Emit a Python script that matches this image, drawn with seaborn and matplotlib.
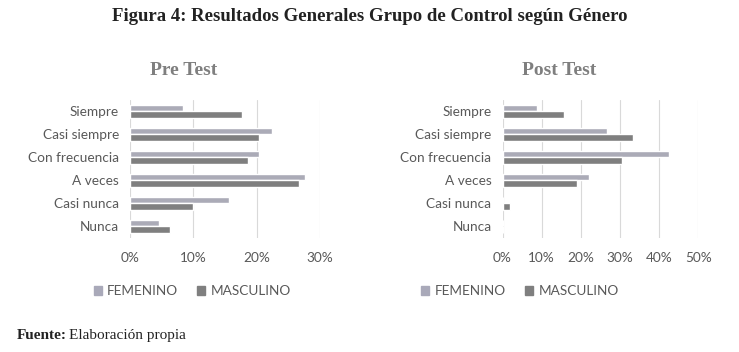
import pandas as pd
import seaborn as sns
import matplotlib.pyplot as plt
from matplotlib.ticker import PercentFormatter

categorias = ['Siempre', 'Casi siempre', 'Con frecuencia', 'A veces', 'Casi nunca', 'Nunca']
generos = ['FEMENINO', 'MASCULINO']

pre_femenino = [0.084, 0.224, 0.204, 0.277, 0.157, 0.045]
pre_masculino = [0.177, 0.203, 0.187, 0.267, 0.100, 0.063]
post_femenino = [0.087, 0.268, 0.426, 0.221, 0.0, 0.0]
post_masculino = [0.157, 0.332, 0.306, 0.189, 0.020, 0.0]

colores = {'FEMENINO': '#a9a9b9', 'MASCULINO': '#7f7f7f'}
gris = '#595959'

def tabla(fem, masc):
    return pd.DataFrame({
        'categoria': categorias * 2,
        'genero': ['FEMENINO'] * 6 + ['MASCULINO'] * 6,
        'valor': fem + masc,
    })

sns.set_style('white')
plt.rcParams['font.family'] = ['Lato', 'DejaVu Sans']

fig = plt.figure(figsize=(7.39, 3.52), dpi=100)
ax1 = fig.add_axes([0.176, 0.324, 0.257, 0.392])
ax2 = fig.add_axes([0.680, 0.324, 0.265, 0.392])

paneles = [
    (ax1, tabla(pre_femenino, pre_masculino), 'Pre Test', 0.30, [0, 0.1, 0.2, 0.3], 0.110, 0.248),
    (ax2, tabla(post_femenino, post_masculino), 'Post Test', 0.50, [0, 0.1, 0.2, 0.3, 0.4, 0.5], 0.553, 0.756),
]

for ax, df, titulo, xmax, ticks, leg_x, tit_x in paneles:
    sns.barplot(data=df, y='categoria', x='valor', hue='genero', order=categorias,
                hue_order=generos, palette=colores, orient='h', width=0.55,
                ax=ax, legend=False)
    ax.set_xlim(0, xmax)
    ax.set_xticks(ticks)
    ax.xaxis.set_major_formatter(PercentFormatter(1.0, decimals=0))
    ax.grid(axis='x', color='#d9d9d9', linewidth=0.8)
    ax.set_axisbelow(True)
    sns.despine(ax=ax, left=True, bottom=True)
    ax.set_xlabel('')
    ax.set_ylabel('')
    ax.tick_params(axis='both', length=0, labelsize=9.8, labelcolor=gris)
    ax.tick_params(axis='y', pad=8)
    ax.tick_params(axis='x', pad=10)
    fig.text(tit_x, 0.80, titulo, ha='center', va='center', fontsize=14,
             fontweight='bold', color='#7f7f7f', family='Liberation Serif')
    handles = [plt.Rectangle((0, 0), 1, 1, color=colores[g]) for g in generos]
    fig.legend(handles, generos, loc='center left', bbox_to_anchor=(leg_x, 0.172),
               ncol=2, frameon=False, fontsize=9.8, labelcolor=gris,
               handlelength=0.6, handleheight=0.6, handletextpad=0.4, columnspacing=1.4)

fig.text(0.5, 0.952, 'Figura 4: Resultados Generales Grupo de Control según Género',
         ha='center', va='center', fontsize=13.5, fontweight='bold',
         family='Liberation Serif', color='#222222')
fig.text(0.023, 0.048, 'Fuente:', ha='left', va='center', fontsize=11,
         fontweight='bold', family='Liberation Serif', color='#222222')
fig.text(0.093, 0.048, 'Elaboración propia', ha='left', va='center', fontsize=11,
         family='Liberation Serif', color='#222222')

fig.savefig('out.png', dpi=100)
